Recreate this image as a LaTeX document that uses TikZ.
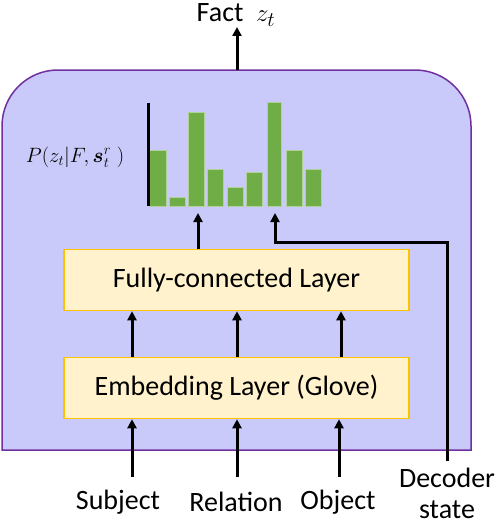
\documentclass[tikz,border=0pt]{standalone}
\usepackage{amsmath}
\usepackage{fontspec}
\setmainfont{Carlito}
\usepackage{tikz}
\usetikzlibrary{positioning,calc,arrows.meta}
\definecolor{boxlav}{HTML}{C9C9FA}
\definecolor{boxpurple}{HTML}{7030A0}
\definecolor{layerfill}{HTML}{FFF2CC}
\definecolor{layerdraw}{HTML}{FFC000}
\definecolor{bargreen}{HTML}{70AD47}
\tikzset{
  figfont/.style={font=\fontsize{28}{32}\selectfont},
  figlayer/.style={draw=layerdraw, fill=layerfill, line width=1.5pt,
    minimum width=345pt, minimum height=61pt, inner sep=0pt},
  figarrow/.style={-{Triangle[length=9pt,width=9pt]}, line width=3pt},
  figbar/.style={fill=bargreen, draw=bargreen!55!white, line width=0.8pt},
  figlabel/.style={inner sep=0pt, align=center},
}
\begin{document}
\begin{tikzpicture}[x=1pt,y=-1pt,figfont]
  \useasboundingbox (0,0) rectangle (498,527);

  % Module frame, rounded on top only
  \draw[fill=boxlav, draw=boxpurple, line width=1.5pt, rounded corners=56pt]
    (2,260) -- (2,70) -- (471,70) -- (471,260)
    [sharp corners] -- (471,450) -- (2,450) -- cycle;
  \coordinate (frametop) at (237,70);

  % Output
  \node[figlabel] (fact) at (236,15) {Fact\ \ $z_t$};
  \draw[figarrow] (frametop) -- (frametop |- 0,27);

  % Distribution over facts
  \node[figlabel, font=\fontsize{21}{24}\selectfont] (prob) at (75,157)
    {$P(z_t|F,\boldsymbol{s}^{r}_{t}\;)$};
  \foreach \xl/\xr/\ytop in {149/166/150, 169/185/197, 188/204/112,
      207/223/169, 227/243/187, 246/262/172, 267/281/102,
      286/302/150, 305/321/169}
    \draw[figbar] (\xl,206) rectangle (\xr,\ytop);
  \draw[line width=3pt] (148,103) -- (148,206);
  \coordinate (bar3) at (198,213);
  \coordinate (bar7) at (275,213);

  % Layers
  \node[figlayer] (fc) at (236.5,280) {Fully-connected Layer};
  \node[figlayer] (emb) at (236.5,388) {Embedding Layer (Glove)};

  \draw[figarrow] (fc.north -| bar3) -- (bar3);
  \foreach \xa in {132,237,341}
    \draw[figarrow] (emb.north -| \xa,0) -- (fc.south -| \xa,0);

  % Inputs
  \node[figlabel] (subj) at (118,502) {Subject};
  \node[figlabel] (rel) at (236,502) {Relation};
  \node[figlabel] (obj) at (338,502) {Object};
  \node[figlabel, font=\fontsize{28}{31}\selectfont, anchor=south] (dec)
    at (447,519) {Decoder\\state};
  \foreach \nd/\xa in {subj/132,rel/237,obj/339}
    \draw[figarrow] (\xa,477) -- (emb.south -| \xa,0);

  % Decoder state feeds the selection
  \coordinate (decin) at (447,461);
  \draw[figarrow] (decin) |- (bar7 |- 0,242) -- (bar7);
\end{tikzpicture}
\end{document}
